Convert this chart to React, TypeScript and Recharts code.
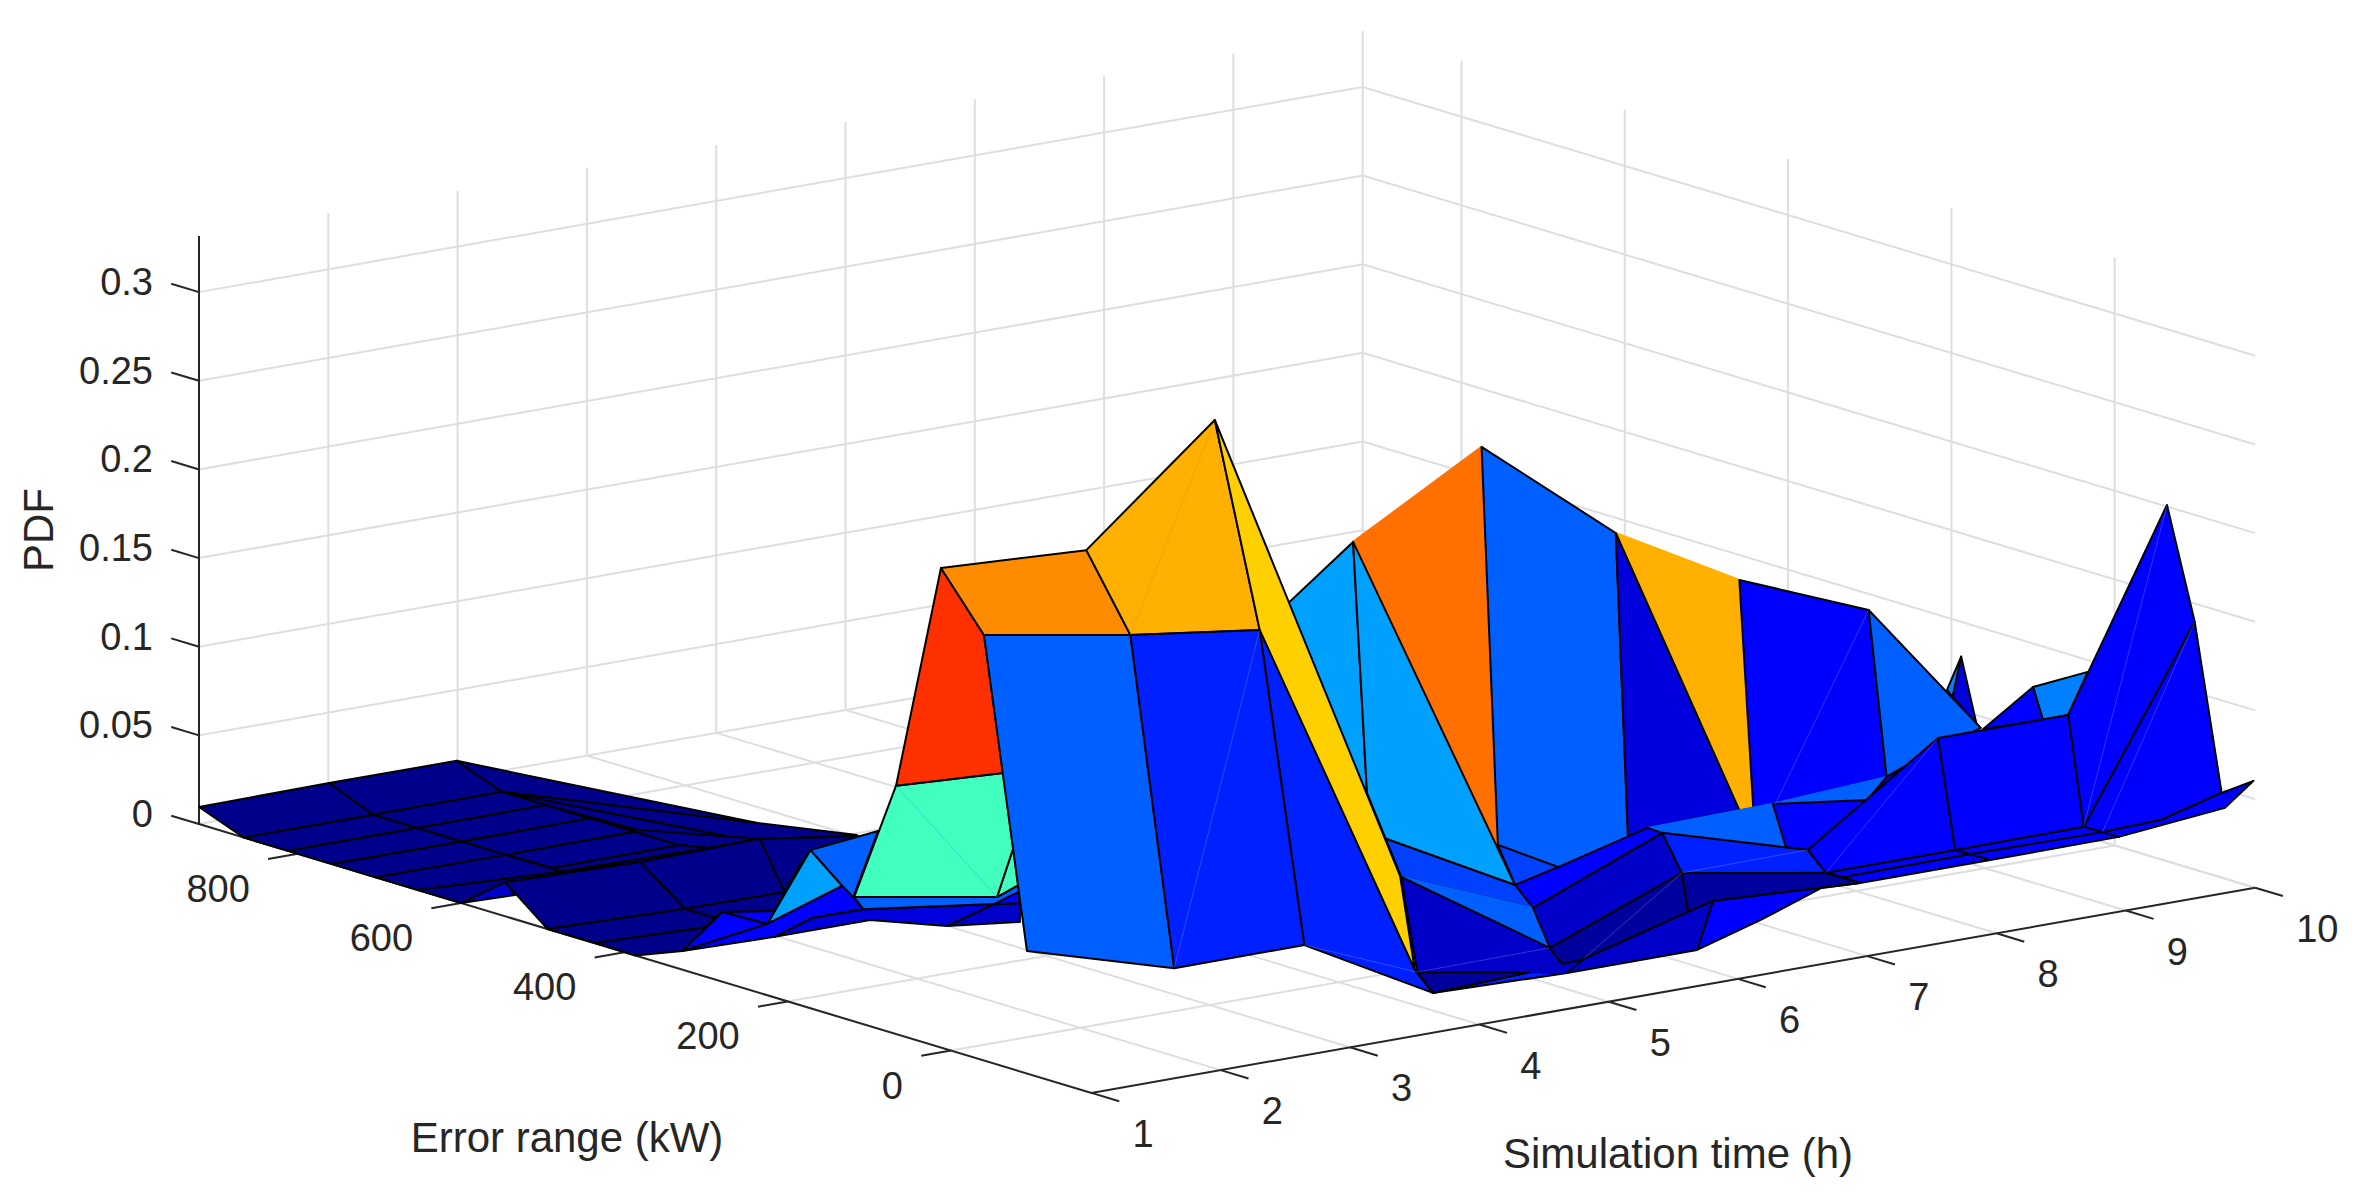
import React from "react";
import { ScatterChart, Scatter, XAxis, YAxis } from "recharts";

const timeTicks = [1, 2, 3, 4, 5, 6, 7, 8, 9, 10];
const errorTicks = [0, 200, 400, 600, 800];
const pdfTicks = [0, 0.05, 0.1, 0.15, 0.2, 0.25, 0.3];
const pdfTickLabels = ["0", "0.05", "0.1", "0.15", "0.2", "0.25", "0.3"];
const errorMin = -172;
const errorMax = 921;
const pdfMax = 0.3316;

// mesh vertices, one group per simulation hour
const t1Names = "a0 a1 a2 a3 a4 a5 a6 r1 p515 p548 p595 p635 p707 p682 p722 p767 p775 p775b p812 p870b p947 p1027".split(" ");
const t1Error = [921, 866, 812, 758, 705, 653, 600, 546, 534, 494, 436, 387, 299, 329, 280, 225, 216, 216, 170, 99, 5, -93];
const t1Pdf = [0.0096, 0, 0, 0.0001, 0, 0, 0, 0.0193, 0.0137, 0, 0.0002, 0, 0.0282, 0.0105, 0.0393, 0.0402, 0.0488, 0.0342, 0.0512, 0.0599, 0.0696, 0.0691];

const t2Names = "b0 b1 b2 b3 b4 b5 b6 r2 r2p p715 r3p p853 p863 p993 p1020a p1020b p997 p854 p1018 p1018b p1013 p984 p1174".split(" ");
const t2Error = [920, 866, 812, 757, 703, 646, 635, 539, 484, 448, 362, 278, 266, 106, 74, 74, 102, 277, 76, 76, 82, 118, -115];
const t2Pdf = [0.0104, 0, 0, 0, 0, 0.0005, 0, 0.0187, 0, 0, 0.0264, 0.0351, 0.03, 0.055, 0.0601, 0.0494, 0.0596, 0.0353, 0.0699, 0.066, 0.09, 0.2052, 0.0496];

const t3Names = "c0 c1 c2 c3 c4 c5 c6 f1 f2 p745 p637 r3 p870 p810 p798 p842 p878 p897 p1003 p941 p1086 p1130 p1304".split(" ");
const t3Error = [922, 867, 813, 759, 704, 650, 614, 554, 432, 568, 702, 551, 416, 489, 504, 450, 406, 384, 253, 329, 151, 97, -116];
const t3Pdf = [0.0098, 0, 0, 0, 0, 0, 0.0033, 0.0258, 0.036, 0.0142, 0.0014, 0.0173, 0.0376, 0.0195, 0.0073, 0.0047, 0.0418, 0.0704, 0.0958, 0.2008, 0.2356, 0.1952, 0.0499];

const t4Names = "p1215 p1260 p1433 p1415 p1400 p1270 p1417".split(" ");
const t4Error = [152, 97, -115, -93, -75, 84, -96];
const t4Pdf = [0.296, 0.1852, 0.0099, 0.0198, 0.0703, 0.1926, 0.019];

const t5Names = "p1353 p1367 p1390 p1386 p1401 p1550 p1530 p1562 p1583 p1567".split(" ");
const t5Error = [141, 124, 96, 101, 82, -100, -76, -115, -141, -121];
const t5Pdf = [0.2159, 0.0767, 0.0428, 0.054, 0.0351, 0.0204, 0.0034, 0.0134, 0.0198, 0.0091];

const t6Names = "p1515 p1498 p1482 p1558 p1533 p1697 p1688".split(" ");
const t6Error = [101, 122, 142, 48, 79, -122, -111];
const t6Pdf = [0.0151, 0.0348, 0.2565, 0.0325, 0.0052, 0.0094, 0.0293];

const t7Names = "p1616 p1628 p1648 p1713 p1663 p1682 p1822 p1760".split(" ");
const t7Error = [136, 121, 97, 17, 79, 55, -116, -41];
const t7Pdf = [0.1959, 0.0265, 0.035, 0.0049, 0.0347, 0.0154, 0.0307, 0.0021];

const t8Names = "p1739 p1739b p1753 p1775 p1808 p1826 p1773 p1786 p1843 p1860".split(" ");
const t8Error = [143, 143, 126, 99, 59, 37, 102, 86, 16, -5];
const t8Pdf = [0.1556, 0.0258, 0.0299, 0.0353, 0.015, 0.0051, 0.035, 0.0129, 0.0057, 0.0052];

const t9Names = "p1869 p1887 p1903 p1947 p1953 p1938 p1955 p1970 p1990 p1867".split(" ");
const t9Error = [143, 121, 102, 47, 40, 58, 37, 19, -6, 145];
const t9Pdf = [0.1258, 0.0347, 0.0425, 0.094, 0.091, 0.0654, 0.0051, 0.0054, 0.0054, 0.0183];

const t10Names = "p1981 p1962 p1977 p1983 p2033 p2043 p2088 p2068 p2084 p2167 p2195 p2222 p2160 p2102 p2119 p2254 p2225".split(" ");
const t10Error = [164, 188, 169, 161, 100, 88, 33, 57, 38, -64, -98, -131, -56, 15, -5, -170, -135];
const t10Pdf = [0.0435, 0.0804, 0.0446, 0.0433, 0.0755, 0.0586, 0.0933, 0.0657, 0.0052, 0.2009, 0.1397, 0.0478, 0.0221, 0.0054, 0.0055, 0.06, 0.0399];

// colour map levels used by the faces
const jetLevels = ["#00008B", "#00009C", "#0000C8", "#0000DC", "#0000FF", "#0020FF", "#0040FF", "#0060FF", "#0080FF", "#00A0FF", "#40FFBF", "#FFD000", "#FFB000", "#FF8C00", "#FF7000", "#FF3000"];

// faces in back-to-front order: [colour level, corner names, no black edge]
type Face = [number, string, boolean?];
const farFloorFaces: Face[] = [
  [0, "a0 b0 b1 a1"], [0, "b0 c0 c1 b1"], [0, "c0 f1 c1"], [0, "c1 f1 f2 p745"], [0, "c1 p745 p637 c2"], [0, "c2 p637 r3 c6 c5 c4 c3"],
  [0, "a1 b1 b2 a2"], [0, "b1 c1 c2 b2"], [0, "a2 b2 b3 a3"], [0, "b2 c2 c3 b3"], [0, "a3 b3 b4 a4"], [0, "b3 c3 c4 b4"],
  [0, "a4 b4 b6 a5"], [0, "b4 c4 c5 b5"], [0, "b5 c5 c6 b6"], [2, "a6 r1 p515"], [0, "a5 b6 r2 r1 a6"], [0, "b6 c6 r3 r2"],
  [0, "r1 r2 r2p p548"], [0, "r2 r3 r3p r2p"], [0, "p548 r2p p715 p707 p595"], [0, "p595 p707 p682 p635"],
  [0, "r3 p870 p810 p798 r3p"], [0, "r2p r3p p775 p722 p715"], [0, "p715 p722 p682 p707"],
];
const backRightFaces: Face[] = [
  [8, "p1947 p1962 p1953"], [3, "p1962 p1977 p1953"], [8, "p2033 p2088 p2068 p2043"], [4, "p1983 p2033 p2043"],
  [4, "p2195 p2222 p2160 p2102 p2084"], [4, "p2167 p2195 p2084 p2068"], [4, "p2160 p2222 p2254 p2225 p2119 p2102"],
  [14, "p1353 p1482 p1498", true], [7, "p1482 p1616 p1628 p1558 p1498"], [12, "p1616 p1739 p1753 p1739b", true], [3, "p1616 p1739b p1648 p1628"],
  [4, "p1739 p1869 p1887 p1775 p1753"], [7, "p1869 p1981 p1903 p1887"],
  [9, "p1270 p1353 p1367 p1390"], [9, "p1353 p1515 p1386 p1367"], [6, "p1498 p1558 p1515"],
];
const frontRightFaces: Face[] = [
  [7, "p1648 p1773 p1786 p1663", true], [7, "p1773 p1887 p1867", true], [4, "p1887 p1903 p1867"], [4, "p1773 p1867 p1808 p1786"],
  [4, "p1515 p1558 p1648 p1663 p1533"], [6, "p1386 p1515 p1533 p1401"], [7, "p1401 p1533 p1550", true],
  [2, "p1533 p1663 p1682 p1550"], [5, "p1663 p1808 p1826 p1682"],
  [2, "p1401 p1550 p1562 p1530 p1417"], [5, "p1433 p1530 p1567"], [1, "p1417 p1530 p1433"], [2, "p1530 p1562 p1583 p1567", true],
  [1, "p1550 p1682 p1688 p1583 p1562"], [1, "p1682 p1826 p1860 p1713 p1688"], [4, "p1713 p1860 p1822 p1760 p1697"], [2, "p1688 p1713 p1697 p1567 p1583"],
  [4, "p1843 p1970 p1990 p1860"], [4, "p1970 p2102 p2119 p1990"], [4, "p1826 p1955 p1970 p1843"], [4, "p1955 p2084 p2102 p1970"],
  [4, "p1808 p1938 p1955 p1826"], [4, "p1938 p2068 p2084 p1955"],
];
const midLeftFaces: Face[] = [
  [7, "p810 p878 p853 p842"], [9, "p810 p767 p842"], [4, "p722 p775 p767"], [4, "p682 p722 p767"],
  [4, "p682 p767 p842 p853 p863 p812 p775b"], [2, "p947 p993 p1020a p1020b"], [3, "p775b p812 p863 p1020a p993 p947 p870b"],
  [7, "p863 p854 p997 p1018 p1020a"], [4, "p993 p1018b p1020a"], [10, "p1013 p1018 p997"], [10, "p897 p1003 p1013 p997 p854"],
];
const peakFaces: Face[] = [
  [15, "p941 p984 p1003 p897"], [13, "p941 p1086 p1130 p984"], [12, "p1086 p1215 p1260 p1130"],
  [5, "p1260 p1400 p1415 p1433 p1304"], [11, "p1215 p1400 p1415 p1260"], [2, "p1415 p1433 p1417"],
  [7, "p984 p1130 p1174 p1027"], [5, "p1130 p1260 p1304 p1174"],
];
// faint diagonals where a quad is split in two
const blueSeams = ["p1174 p1260", "p1775 p1869", "p2084 p2167", "p2102 p2195", "p1304 p1417", "p1417 p1550", "p1583 p1682", "p1682 p1808", "p1826 p1938"];
const warmSeams = ["p984 p1086", "p1130 p1215"];
const greenSeams = ["p897 p997"];

const toPlane = (t: number, e: number, z: number) => ({
  px: 951 + 129.3 * (t - 1) - 0.8165 * e,
  py: 1050.6 - 22.8 * (t - 1) - 0.246 * e - 1773 * z,
});

const vertexGroups: [number, string[], number[], number[]][] = [
  [1, t1Names, t1Error, t1Pdf], [2, t2Names, t2Error, t2Pdf], [3, t3Names, t3Error, t3Pdf], [4, t4Names, t4Error, t4Pdf],
  [5, t5Names, t5Error, t5Pdf], [6, t6Names, t6Error, t6Pdf], [7, t7Names, t7Error, t7Pdf], [8, t8Names, t8Error, t8Pdf],
  [9, t9Names, t9Error, t9Pdf], [10, t10Names, t10Error, t10Pdf],
];
const vertexTable = new Map<string, { px: number; py: number }>();
vertexGroups.forEach(([t, names, errs, pdfs]) => names.forEach((n, i) => vertexTable.set(n, toPlane(t, errs[i], pdfs[i]))));
const corners = (s: string) => s.split(" ").map((n) => vertexTable.get(n)!);

const allFaces = [...farFloorFaces, ...backRightFaces, ...frontRightFaces, ...midLeftFaces, ...peakFaces];

const noMark = () => null;
const FONT = "'Liberation Sans', Arial, sans-serif";
const TEXT = "#262626";
const GRID = "#dedede";

const polygonLine = (fill: string, edge: string) => (p: any) => (
  <polygon
    points={p.points.map((q: any) => `${q.x},${q.y}`).join(" ")}
    fill={fill}
    stroke={edge}
    strokeWidth={2}
    strokeLinejoin="round"
  />
);
const straightLine = (stroke: string, width: number, opacity = 1) => (p: any) => (
  <polyline
    points={p.points.map((q: any) => `${q.x},${q.y}`).join(" ")}
    fill="none"
    stroke={stroke}
    strokeWidth={width}
    strokeOpacity={opacity}
  />
);

type Seg = { px: number; py: number }[];
const gridSegments: Seg[] = [
  ...timeTicks.map((t) => [toPlane(t, errorMin, 0), toPlane(t, errorMax, 0), toPlane(t, errorMax, pdfMax)]),
  ...errorTicks.map((e) => [toPlane(1, e, 0), toPlane(10, e, 0), toPlane(10, e, pdfMax)]),
  ...pdfTicks.map((z) => [toPlane(1, errorMax, z), toPlane(10, errorMax, z), toPlane(10, errorMin, z)]),
];
const axisSegments: Seg[] = [
  [toPlane(1, errorMax, pdfMax), toPlane(1, errorMax, 0), toPlane(1, errorMin, 0), toPlane(10, errorMin, 0)],
  ...timeTicks.map((t) => [toPlane(t, errorMin, 0), toPlane(t, errorMin - 34, 0)]),
  ...errorTicks.map((e) => [toPlane(1, e, 0), toPlane(0.77, e, 0)]),
  ...pdfTicks.map((z) => [toPlane(1, errorMax, z), toPlane(1, errorMax + 34, z)]),
];

const label = (px: number, py: number, text: string) => ({ px, py, text });
const timeLabels = timeTicks.map((t) => {
  const q = toPlane(t, errorMin, 0);
  return label(q.px + 41, q.py + 54, String(t));
});
const errorLabels = errorTicks.map((e) => {
  const q = toPlane(1, e, 0);
  return label(q.px - 48, q.py + 48, String(e));
});
const pdfLabels = pdfTicks.map((z, i) => {
  const q = toPlane(1, errorMax, z);
  return label(q.px - 46, q.py + 3, pdfTickLabels[i]);
});

const textShape = (size: number, anchor: string, rotate = false) => (p: any) => (
  <text
    x={p.cx}
    y={p.cy}
    fontFamily={FONT}
    fontSize={size}
    fill={TEXT}
    textAnchor={anchor}
    transform={rotate ? `rotate(-90 ${p.cx} ${p.cy})` : undefined}
  >
    {p.payload.text}
  </text>
);

export default function App() {
  return (
    <div style={{ position: "absolute", left: 0, top: 0, width: 2361, height: 1200, background: "#fff" }}>
      <ScatterChart width={2361} height={1200} margin={{ top: 0, right: 0, bottom: 0, left: 0 }}>
        <XAxis type="number" dataKey="px" domain={[0, 2361]} hide />
        <YAxis type="number" dataKey="py" domain={[0, 1200]} reversed hide />
        {gridSegments.map((s, i) => (
          <Scatter key={`g${i}`} data={s} line={straightLine(GRID, 2)} shape={noMark} isAnimationActive={false} />
        ))}
        {axisSegments.map((s, i) => (
          <Scatter key={`a${i}`} data={s} line={straightLine(TEXT, 2)} shape={noMark} isAnimationActive={false} />
        ))}
        {allFaces.map(([level, names, open], i) => (
          <Scatter
            key={`f${i}`}
            data={corners(names)}
            line={polygonLine(jetLevels[level], open ? jetLevels[level] : "#000")}
            shape={noMark}
            isAnimationActive={false}
          />
        ))}
        {blueSeams.map((s, i) => (
          <Scatter key={`sb${i}`} data={corners(s)} line={straightLine("#9fb0ff", 1, 0.3)} shape={noMark} isAnimationActive={false} />
        ))}
        {warmSeams.map((s, i) => (
          <Scatter key={`sw${i}`} data={corners(s)} line={straightLine("#e87000", 1, 0.25)} shape={noMark} isAnimationActive={false} />
        ))}
        {greenSeams.map((s, i) => (
          <Scatter key={`sg${i}`} data={corners(s)} line={straightLine("#20c0d0", 1, 0.5)} shape={noMark} isAnimationActive={false} />
        ))}
        <Scatter data={timeLabels} shape={textShape(38, "start")} isAnimationActive={false} />
        <Scatter data={errorLabels} shape={textShape(38, "end")} isAnimationActive={false} />
        <Scatter data={pdfLabels} shape={textShape(38, "end")} isAnimationActive={false} />
        <Scatter data={[label(567, 1152, "Error range (kW)")]} shape={textShape(42, "middle")} isAnimationActive={false} />
        <Scatter data={[label(1678, 1168, "Simulation time (h)")]} shape={textShape(42, "middle")} isAnimationActive={false} />
        <Scatter data={[label(53, 530, "PDF")]} shape={textShape(42, "middle", true)} isAnimationActive={false} />
      </ScatterChart>
    </div>
  );
}
